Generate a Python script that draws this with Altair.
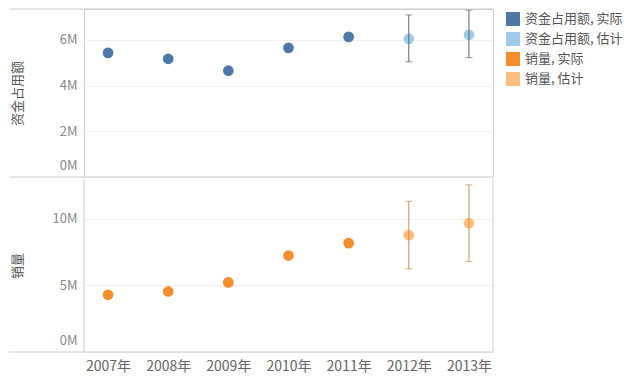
import altair as alt
import pandas as pd

years = ["2007年", "2008年", "2009年", "2010年", "2011年", "2012年", "2013年"]
status = ["实际", "实际", "实际", "实际", "实际", "估计", "估计"]
fund = [5.43, 5.17, 4.65, 5.65, 6.13, 6.04, 6.22]          # 资金占用额 (M)
fund_lo = [None, None, None, None, None, 5.04, 5.22]
fund_hi = [None, None, None, None, None, 7.09, 7.30]
sales = [4.30, 4.55, 5.23, 7.25, 8.18, 8.78, 9.68]          # 销量 (M)
sales_lo = [None, None, None, None, None, 6.25, 6.80]
sales_hi = [None, None, None, None, None, 11.33, 12.56]

series = ["资金占用额, 实际", "资金占用额, 估计", "销量, 实际", "销量, 估计"]
colors = ["#4e79a7", "#a0cbe8", "#f28e2b", "#ffbe7d"]

M = 1_000_000
df_f = pd.DataFrame({
    "year": years,
    "v": [v * M for v in fund],
    "lo": [v * M if v is not None else None for v in fund_lo],
    "hi": [v * M if v is not None else None for v in fund_hi],
    "s": ["资金占用额, " + s for s in status],
})
df_s = pd.DataFrame({
    "year": years,
    "v": [v * M for v in sales],
    "lo": [v * M if v is not None else None for v in sales_lo],
    "hi": [v * M if v is not None else None for v in sales_hi],
    "s": ["销量, " + s for s in status],
})

W = 409
FONT = "Noto Sans CJK SC"
BORDER = "#cccccc"
color_scale = alt.Scale(domain=series, range=colors)
legend = alt.Legend(title=None, orient="right", offset=9, padding=3,
                    symbolType="square", symbolSize=196, symbolStrokeWidth=0,
                    symbolOpacity=1, labelFontSize=13, labelColor="#555555",
                    labelFont=FONT, rowPadding=6, labelOffset=5, labelLimit=200)


def panel(df, height, dmax, ticks, title, bar_color, is_bottom):
    xaxis = alt.Axis(title=None, ticks=False, domain=False, labelAngle=0,
                     labelFontSize=14, labelColor="#666666", labelFont=FONT,
                     labelPadding=7) if is_bottom else None
    x = alt.X("year:O", sort=years, scale=alt.Scale(type="point", padding=0.4),
              axis=xaxis)
    y = alt.Y("v:Q", scale=alt.Scale(domain=[0, dmax], nice=False, zero=True),
              axis=alt.Axis(values=ticks, labelExpr="datum.value/1000000 + 'M'",
                            ticks=False, domain=False, labelFontSize=13,
                            labelColor="#888888", labelFont=FONT, labelPadding=7,
                            labelFlush=True, labelFlushOffset=-5,
                            gridColor="#f0f0f0", title=title, titleX=-67,
                            titleY=height / 2, titleAngle=-90, titleAlign="center",
                            titleBaseline="middle", titleFontSize=13,
                            titleFontWeight="normal", titleColor="#555555",
                            titleFont=FONT))
    base = alt.Chart(df)
    rule = base.mark_rule(color=bar_color, strokeWidth=1).encode(
        x=x, y=alt.Y("lo:Q"), y2="hi:Q")
    cap_hi = base.mark_tick(color=bar_color, size=7, thickness=1).encode(
        x=x, y=alt.Y("hi:Q"))
    cap_lo = base.mark_tick(color=bar_color, size=7, thickness=1).encode(
        x=x, y=alt.Y("lo:Q"))
    pts = base.mark_circle(size=115, opacity=1).encode(
        x=x, y=y,
        color=alt.Color("s:N", scale=color_scale, legend=legend))
    one = alt.Chart(pd.DataFrame({"a": [0]}))
    line_bottom = one.mark_rule(color=BORDER, strokeWidth=1).encode(
        x=alt.value(-75), x2=alt.value(W), y=alt.value(height))
    layers = [pts, rule, cap_hi, cap_lo, line_bottom]
    if not is_bottom:
        line_top = one.mark_rule(color=BORDER, strokeWidth=1).encode(
            x=alt.value(-75), x2=alt.value(W), y=alt.value(0))
        layers.append(line_top)
        return alt.layer(*layers).properties(width=W, height=height)
    for xv in (0, W):
        layers.append(one.mark_rule(color=BORDER, strokeWidth=1).encode(
            x=alt.value(xv), y=alt.value(0), y2=alt.value(height)))
    return alt.layer(*layers).properties(
        width=W, height=height, view=alt.ViewBackground(stroke="transparent"))


top = panel(df_f, 168, 7.35 * M, [0, 2 * M, 4 * M, 6 * M], "资金占用额", "#5b6570", False)
bottom = panel(df_s, 173, 13.0 * M, [0, 5 * M, 10 * M], "销量", "#c8924e", True)

chart = alt.vconcat(top, bottom, spacing=0).properties(
    padding={"left": 0, "top": 0, "right": 10, "bottom": 5},
    background="white",
).configure_view(stroke=BORDER, strokeWidth=1)

chart.save("out.html", embed_options={"renderer": "svg", "actions": False})
